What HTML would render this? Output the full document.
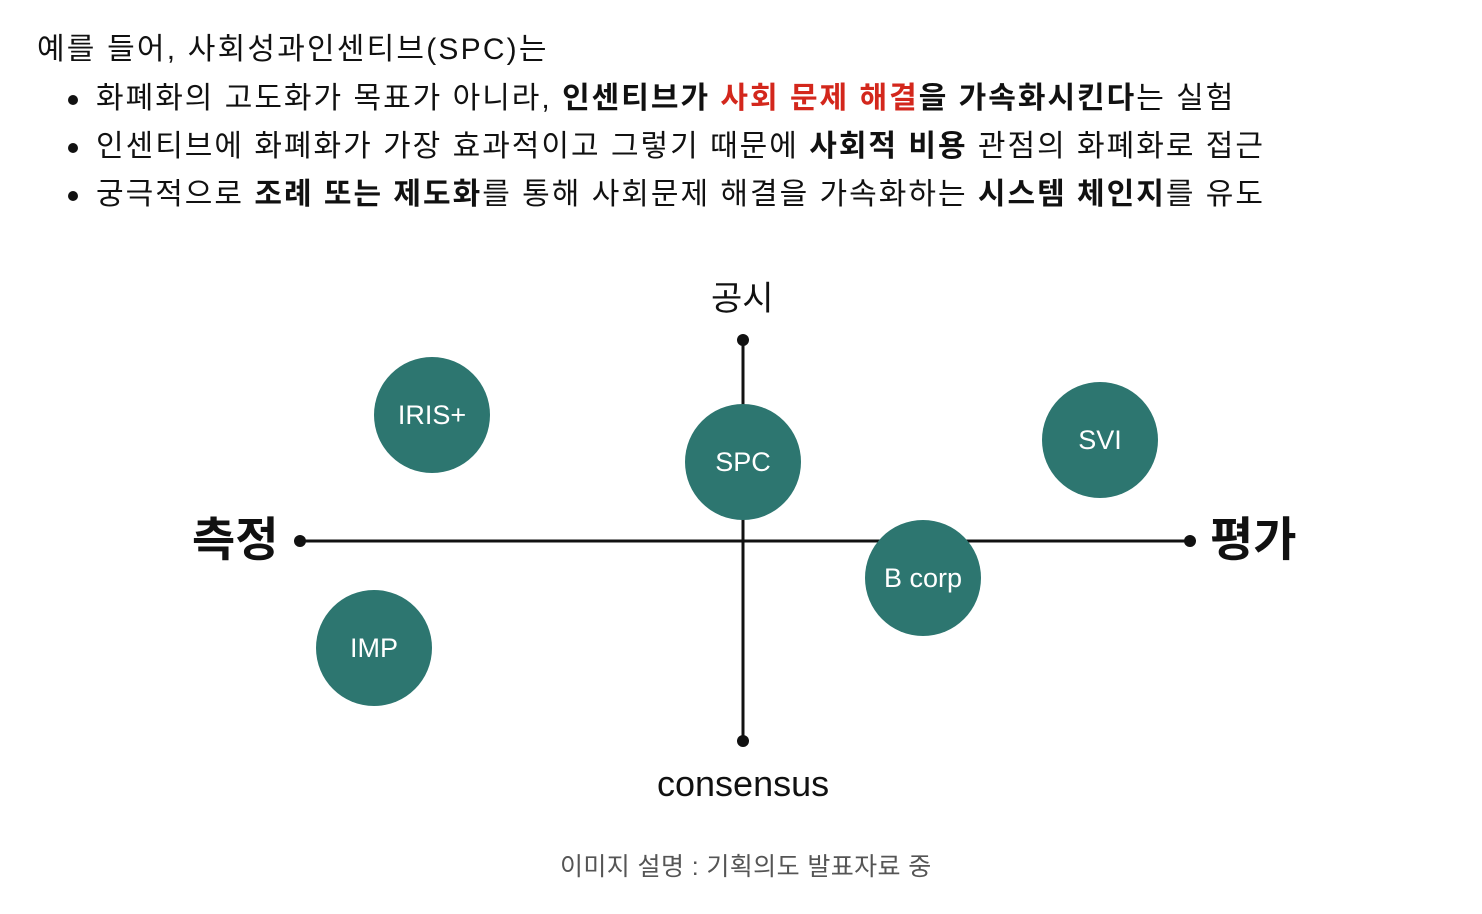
<!DOCTYPE html>
<html><head><meta charset="utf-8"><style>
body{margin:0;width:1482px;height:914px;background:#fff;position:relative;overflow:hidden;font-family:"Liberation Sans","Noto Sans CJK KR",sans-serif;color:#111}
.t{position:absolute;white-space:nowrap;font-size:30px;line-height:1}
.l{letter-spacing:2px}
b{font-weight:700}
.r{color:#d3271c;font-weight:700}
.dot{position:absolute;left:68px;width:10px;height:10px;border-radius:50%;background:#111}
.c{position:absolute;width:116px;height:116px;border-radius:50%;background:#2d7670;color:#fff;font-size:27px;display:flex;align-items:center;justify-content:center}
</style></head><body>
<div class="t" style="left:37px;top:35px;letter-spacing:2.2px">예를 들어, 사회성과인센티브(SPC)는</div>
<div class="dot" style="top:95px"></div>
<div class="t l" style="left:96px;top:84px">화폐화의 고도화가 목표가 아니라, <b>인센티브가 </b><span class="r">사회 문제 해결</span><b>을 가속화시킨다</b>는 실험</div>
<div class="dot" style="top:143px"></div>
<div class="t l" style="left:96px;top:132px">인센티브에 화폐화가 가장 효과적이고 그렇기 때문에 <b>사회적 비용</b> 관점의 화폐화로 접근</div>
<div class="dot" style="top:191px"></div>
<div class="t l" style="left:96px;top:180px">궁극적으로 <b>조례 또는 제도화</b>를 통해 사회문제 해결을 가속화하는 <b>시스템 체인지</b>를 유도</div>

<svg style="position:absolute;left:0;top:0" width="1482" height="914">
<line x1="300" y1="541" x2="1190" y2="541" stroke="#111" stroke-width="3"/>
<line x1="743" y1="340" x2="743" y2="741" stroke="#111" stroke-width="3"/>
<circle cx="300" cy="541" r="6" fill="#111"/><circle cx="1190" cy="541" r="6" fill="#111"/>
<circle cx="743" cy="340" r="6" fill="#111"/><circle cx="743" cy="741" r="6" fill="#111"/>
</svg>
<div class="c" style="left:374px;top:357px">IRIS+</div>
<div class="c" style="left:685px;top:404px">SPC</div>
<div class="c" style="left:1042px;top:382px">SVI</div>
<div class="c" style="left:865px;top:520px">B corp</div>
<div class="c" style="left:316px;top:590px">IMP</div>
<div class="t" style="left:711px;top:282px;font-size:34px">공시</div>
<div class="t" style="left:657px;top:766px;font-size:36px">consensus</div>
<div class="t" style="left:192px;top:516px;font-size:47px;font-weight:700">측정</div>
<div class="t" style="left:1210px;top:516px;font-size:47px;font-weight:700">평가</div>
<div class="t" style="left:560px;top:855px;font-size:25px;color:#555;letter-spacing:0.4px">이미지 설명 : 기획의도 발표자료 중</div>
</body></html>
